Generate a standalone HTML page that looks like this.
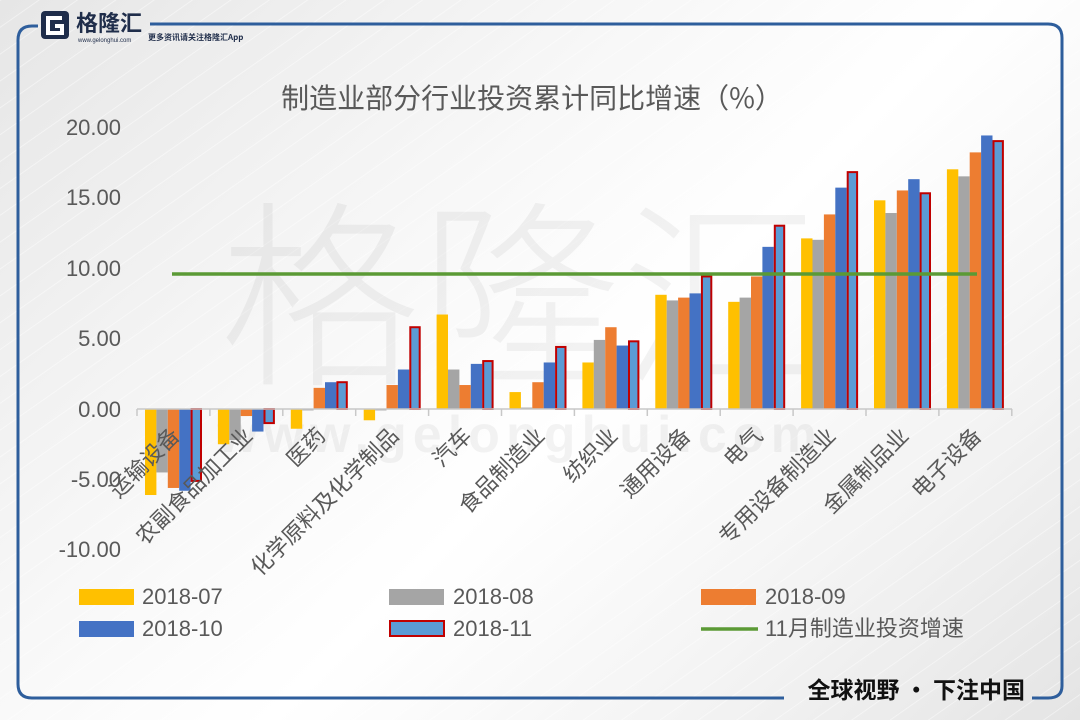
<!DOCTYPE html>
<html><head><meta charset="utf-8">
<style>
html,body{margin:0;padding:0;width:1080px;height:720px;overflow:hidden;}
body{background:linear-gradient(135deg,#e6e6e6 0%,#f7f7f7 35%,#ffffff 55%,#f2f2f2 80%,#e4e4e4 100%);font-family:"Liberation Sans","Noto Sans CJK SC",sans-serif;}
svg{position:absolute;left:0;top:0;}
</style></head><body>
<svg width="1080" height="720" viewBox="0 0 1080 720" xmlns="http://www.w3.org/2000/svg">
<defs>
<pattern id="st" width="22" height="22" patternUnits="userSpaceOnUse" patternTransform="rotate(-35)">
<line x1="0" y1="0" x2="22" y2="0" stroke="#ffffff" stroke-width="1.5" opacity="0.8"/>
</pattern>
</defs>
<rect width="1080" height="720" fill="url(#st)" opacity="0.7"/>
<path d="M150 24 H1048 Q1062 24 1062 38 V686 Q1062 698 1048 698 H1032" fill="none" stroke="#2E5E9C" stroke-width="3"/>
<path d="M784 698 H32 Q18 698 18 684 V40 Q18 26 32 26 H38" fill="none" stroke="#2E5E9C" stroke-width="3"/>
<rect x="41" y="11" width="28" height="28" rx="4" fill="#1f2d4a"/>
<path d="M62 18 H48 V33 H62 V26 H55" fill="none" stroke="#fff" stroke-width="4"/>
<text x="76" y="31" font-size="22" font-weight="bold" fill="#1f2d4a" font-family="'Noto Sans CJK SC',sans-serif">格隆汇</text>
<text x="78" y="42" font-size="6" fill="#1f2d4a">www.gelonghui.com</text>
<text x="148" y="40" font-size="8" font-weight="bold" fill="#1f2d4a" font-family="'Noto Sans CJK SC',sans-serif">更多资讯请关注格隆汇App</text>
<text x="520" y="370" font-size="200" fill="#000" opacity="0.045" text-anchor="middle" font-family="'Noto Sans CJK SC',sans-serif" font-weight="300">格隆汇</text>
<text x="520" y="452" font-size="52" font-weight="bold" fill="#000" opacity="0.045" text-anchor="middle" letter-spacing="6">www.gelonghui.com</text>
<text x="532" y="108" font-size="28" fill="#595959" text-anchor="middle" font-family="'Noto Sans CJK SC',sans-serif">制造业部分行业投资累计同比增速（%）</text>
<g font-size="22" fill="#595959" text-anchor="end">
<text x="121" y="135">20.00</text>
<text x="121" y="205">15.00</text>
<text x="121" y="276">10.00</text>
<text x="121" y="346">5.00</text>
<text x="121" y="417">0.00</text>
<text x="121" y="487">-5.00</text>
<text x="121" y="557">-10.00</text>
</g>
<g id="bars"></g>
<line x1="137" y1="409" x2="1012" y2="409" stroke="#c8c8c8" stroke-width="1.5"/>
<g id="ticks" stroke="#c8c8c8" stroke-width="1.5"></g>
<line x1="172" y1="274" x2="977" y2="274" stroke="#5B9A35" stroke-width="3.5"/>
<g font-size="22" fill="#595959" text-anchor="end" font-family="'Noto Sans CJK SC',sans-serif">
<text transform="translate(181,437) rotate(-45)">运输设备</text>
<text transform="translate(254,437) rotate(-45)">农副食品加工业</text>
<text transform="translate(327,437) rotate(-45)">医药</text>
<text transform="translate(400,437) rotate(-45)">化学原料及化学制品</text>
<text transform="translate(473,437) rotate(-45)">汽车</text>
<text transform="translate(546,437) rotate(-45)">食品制造业</text>
<text transform="translate(619,437) rotate(-45)">纺织业</text>
<text transform="translate(692,437) rotate(-45)">通用设备</text>
<text transform="translate(764,437) rotate(-45)">电气</text>
<text transform="translate(837,437) rotate(-45)">专用设备制造业</text>
<text transform="translate(910,437) rotate(-45)">金属制品业</text>
<text transform="translate(983,437) rotate(-45)">电子设备</text>
</g>
<g font-size="22" fill="#595959">
<rect x="79" y="589" width="55" height="16" fill="#FFC000"/><text x="142" y="604">2018-07</text>
<rect x="389" y="589" width="55" height="16" fill="#A5A5A5"/><text x="453" y="604">2018-08</text>
<rect x="701" y="589" width="55" height="16" fill="#ED7D31"/><text x="765" y="604">2018-09</text>
<rect x="79" y="621" width="55" height="16" fill="#4472C4"/><text x="142" y="636">2018-10</text>
<rect x="390" y="621" width="54" height="15" fill="#5B9BD5" stroke="#C00000" stroke-width="2"/><text x="453" y="636">2018-11</text>
<line x1="701" y1="629" x2="758" y2="629" stroke="#5B9A35" stroke-width="3.5"/><text x="765" y="636" font-family="'Liberation Sans','Noto Sans CJK SC',sans-serif">11月制造业投资增速</text>
</g>
<text x="1025" y="698" font-size="23" font-weight="bold" fill="#111" text-anchor="end" font-family="'Noto Sans CJK SC',sans-serif">全球视野 · 下注中国</text>
</svg>
<script>
var d=[[-6.1,-4.5,-5.6,-5.8,-5.1],[-2.5,-2.2,-0.5,-1.6,-1.0],[-1.4,-0.1,1.5,1.9,1.9],[-0.8,-0.1,1.7,2.8,5.8],[6.7,2.8,1.7,3.2,3.4],[1.2,0.1,1.9,3.3,4.4],[3.3,4.9,5.8,4.5,4.8],[8.1,7.7,7.9,8.2,9.4],[7.6,7.9,9.4,11.5,13.0],[12.1,12.0,13.8,15.7,16.8],[14.8,13.9,15.5,16.3,15.3],[17.0,16.5,18.2,19.4,19.0]];
var c=["#FFC000","#A5A5A5","#ED7D31","#4472C4","#5B9BD5"];
var ns="http://www.w3.org/2000/svg",g=document.getElementById("bars"),t=document.getElementById("ticks");
var sp=72.9,bw=11.4;
for(var i=0;i<12;i++){var x0=137+i*sp+8;
for(var j=0;j<5;j++){var v=d[i][j],y=409-14.1*Math.max(v,0),h=Math.abs(v)*14.1;
var r=document.createElementNS(ns,"rect");r.setAttribute("x",x0+j*bw);r.setAttribute("y",y);r.setAttribute("width",bw);r.setAttribute("height",Math.max(h,0.5));r.setAttribute("fill",c[j]);
if(j==4){r.setAttribute("stroke","#C00000");r.setAttribute("stroke-width","2");r.setAttribute("x",x0+j*bw+1);r.setAttribute("width",bw-2);}
g.appendChild(r);}
}
for(var i=0;i<=12;i++){var l=document.createElementNS(ns,"line");var x=137+i*sp;l.setAttribute("x1",x);l.setAttribute("x2",x);l.setAttribute("y1",409);l.setAttribute("y2",416);t.appendChild(l);}
</script>
</body></html>
